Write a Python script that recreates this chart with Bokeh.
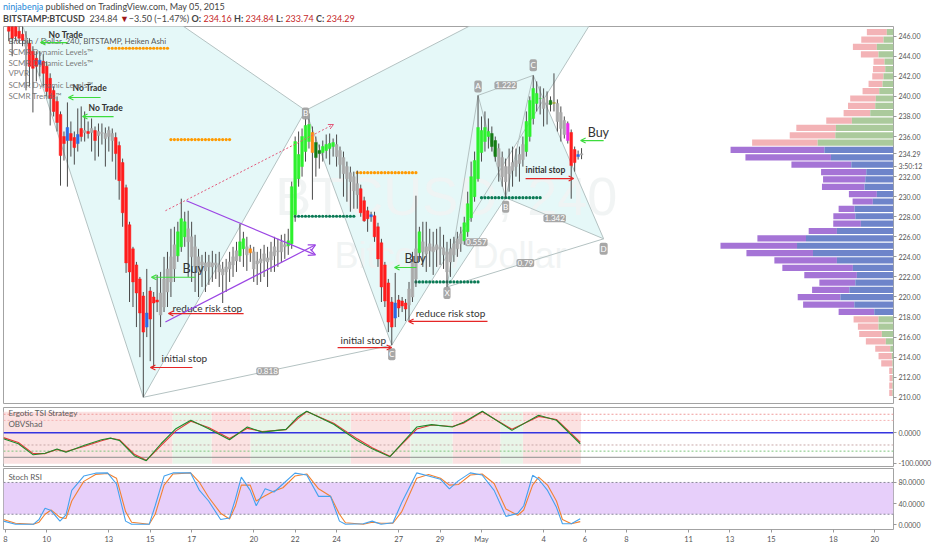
from bokeh.plotting import figure
from bokeh.models import (Range1d, Label, Arrow, OpenHead, FixedTicker, Div,
                          NumeralTickFormatter)
from bokeh.layouts import column
from bokeh.embed import file_html
from bokeh.resources import INLINE
from bokeh.core.properties import value

FONT = "Lato"

# ---------------- header data ----------------
AUTHOR = "ninjabenja"
PUB_DATE = "May 05, 2015"
SYMBOL = "BITSTAMP:BTCUSD"
LAST = "234.84"
CHANGE = "\u22123.50 (\u22121.47%)"
O_, H_, L_, C_ = "234.16", "234.84", "233.74", "234.29"
COUNTDOWN = "3:50:12"
COUNTDOWN_AT = 233.05

# ---------------- x axis (days since Apr 8, 2015) ----------------
TICK_DAYS = [0, 2, 5, 7, 9, 12, 14, 16, 19, 21, 23, 26, 28, 30, 33, 35, 37, 40, 42]
TICK_LABELS = ["8", "10", "13", "15", "17", "20", "22", "24", "27", "29", "May",
               "4", "6", "8", "11", "13", "15", "18", "20"]
PRICE_TICKS = [210, 212, 214, 216, 218, 220, 222, 224, 226, 228, 230, 232,
               236, 238, 240, 242, 244, 246]

# ---------------- Heiken Ashi 4h bars ----------------
OPEN = [248, 247.5, 247, 246.5, 246.2, 245.8, 245.3, 244.5, 243.8, 243.2,
        243.5, 243, 241.8, 240.6, 239.5, 238.2, 236, 235.6, 236.3, 235.9,
        235.3, 236.8, 236.4, 236.5, 236.4, 236.6, 236.1, 236.3, 236.3, 236,
        236.3, 235.9, 235.1, 233.4, 230.9, 227.2, 224.8, 223.2, 221.8, 220.1,
        217, 220.6, 220, 219.7, 218.2, 219, 220.5, 221.5, 222.8, 224.1,
        225, 226, 226.8, 226, 225, 224, 223.2, 223.4, 223, 223.4,
        223.2, 223.2, 222.8, 222.5, 222.8, 223.2, 223.6, 224.1, 224.8, 225,
        224.8, 224.5, 223.6, 223.4, 223.6, 223.9, 223.7, 224.1, 224.5, 224.5,
        225, 225.1, 225.3, 228.2, 231.8, 233, 234.5, 235.5, 236.4, 235.4,
        234.6, 234.4, 234.6, 234.8, 235, 235.2, 234.6, 233.9, 233, 232.4,
        232, 231.3, 230.8, 229.6, 228.6, 228, 228.1, 227, 225.4, 223.2,
        221.4, 219.5, 217.9, 219.7, 219.6, 219.4, 219.2, 220, 221.8, 224.4,
        225.5, 225, 224.6, 225, 224.7, 224.8, 224.9, 224.5, 223.5, 224.2,
        224.8, 225.3, 225.6, 226.5, 227.9, 230, 231.8, 234.4, 235.5, 236,
        236.3, 235.6, 234.8, 233.9, 233, 232.3, 232.6, 233, 233.3, 233.7,
        234.5, 236, 237.8, 239.3, 239.8, 239.8, 239.3, 239.2, 239.4, 239.3,
        238.4, 237.6, 237.3, 236.4, 234.7, 234, 234.16]
HIGH = [249, 248, 247.5, 247, 247, 246.5, 245.8, 245, 244.5, 244.5,
        244.2, 243.5, 242.3, 241, 240, 238.5, 236.5, 239.4, 237.5, 236.5,
        238.8, 239, 238.5, 237.5, 237.8, 237, 237.3, 237.3, 236.9, 237,
        236.8, 236.4, 235.5, 233.8, 231.2, 227.5, 225, 223.5, 222, 220.5,
        222.8, 221, 220.5, 222.2, 222.5, 224, 224.5, 226.8, 227, 227.5,
        229.8, 228.5, 228.6, 227.5, 226.2, 224.8, 224.2, 224.5, 224.2, 224.6,
        224.3, 224.5, 223.5, 223.8, 224.5, 225, 225.5, 227.3, 226.5, 226,
        225.2, 225, 224.5, 224.8, 225.2, 225, 225.5, 226, 225.8, 226.2,
        226.3, 226.8, 231.5, 236, 236.5, 236.8, 238.6, 238.3, 237, 236,
        235.2, 235.6, 236.2, 236.3, 235.8, 236.2, 235, 234.5, 233.5, 233,
        232.5, 232.6, 231.2, 230, 229, 228.5, 228.5, 227.4, 225.8, 223.5,
        221.8, 220, 222.4, 220.2, 220, 219.8, 221.5, 224.5, 230.1, 227,
        227.5, 227.5, 226.8, 226.5, 226.8, 227, 226.2, 225.5, 225.8, 226,
        226.5, 227, 228, 230.5, 233.5, 234.5, 240.1, 238, 238.5, 237.8,
        237, 236, 235.3, 234.5, 233.8, 234.8, 235, 234.8, 235, 236,
        238.5, 240, 242.1, 241.5, 241, 240.8, 240.5, 240, 242.3, 239.7,
        239, 238, 237.5, 236.7, 235, 234.6, 234.84]
LOW = [245.5, 244, 245.5, 245.3, 245, 240.6, 241, 238.4, 241.5, 242,
       241, 240, 237.1, 238, 236.5, 231.1, 233.6, 231, 234, 233.2,
       234.5, 235.5, 235.5, 235.8, 234.5, 233.6, 234, 235.2, 233, 234.5,
       233.5, 231.7, 229.7, 227, 222.4, 219.5, 219, 217, 214, 210,
       216, 213.6, 213, 218.5, 217, 218.5, 219, 220, 221.5, 223.5,
       224.5, 225, 222, 221.5, 220.5, 220, 221, 220.5, 221.2, 221.5,
       221.8, 221, 219.4, 220.5, 221.5, 222, 222.5, 223.5, 223, 222.6,
       223.5, 221.5, 221.2, 221.5, 222, 221, 222.5, 222.5, 223, 223.5,
       223.8, 224.2, 224.8, 227.5, 231, 232, 233.5, 234.8, 229.7, 232,
       232.8, 233.5, 233.8, 233.2, 234, 233, 231.8, 230, 229.5, 228.5,
       228.8, 228.8, 228, 227.5, 226.5, 227.5, 225.5, 223, 219.5, 219,
       216.5, 215.2, 217, 218, 218.5, 217.6, 217.6, 219.5, 221, 223.5,
       223, 222.5, 223, 222.2, 223, 223.2, 222.8, 221, 222, 223.5,
       224, 224.5, 225.2, 226, 227.5, 229.5, 231.5, 233.5, 234.5, 234.8,
       234.5, 233.5, 231.5, 231, 229.9, 230.5, 231, 232, 231.5, 233,
       234, 235.5, 237.2, 238.5, 238.2, 237, 237.2, 238.5, 238.5, 236.5,
       235.5, 235.8, 235.3, 229.8, 232.5, 233.7, 233.74]
CLOSE = [246.5, 245.8, 246, 245.8, 245.6, 245, 243, 242.8, 243, 243.6,
         242.3, 240.5, 239.8, 238.5, 237.4, 234.1, 235.3, 236.9, 235.6, 234.9,
         236.2, 236, 236.6, 236.3, 236.8, 235.6, 236.5, 236.4, 235.8, 236.6,
         235.6, 234.3, 231.6, 228.4, 223.4, 222.5, 221.5, 220.4, 218.4, 216.5,
         218.4, 217.8, 219.4, 219.5, 220.4, 221.8, 222.8, 224, 225.2, 226.5,
         227.8, 227.5, 225.5, 224, 223, 222.5, 223.5, 222.6, 223.5, 223.0,
         223.4, 222.5, 222.2, 223, 223.5, 224, 224.6, 225.5, 225.8, 224.2,
         224.4, 222.8, 223.3, 223.8, 224.3, 223.5, 224.5, 225, 224.6, 225.5,
         225.2, 225.6, 231, 235.5, 234.2, 236, 237.1, 237.2, 234.4, 233.9,
         234.3, 235, 235.2, 235.3, 235.4, 234, 233.2, 232.3, 231.8, 231.5,
         230.6, 230.2, 228.4, 227.6, 227.8, 228.2, 226, 223.8, 221, 219.6,
         217.5, 217, 219.4, 218.9, 219.1, 218.8, 220.8, 223.5, 224.8, 226.5,
         224.5, 224.3, 225.3, 224.5, 225.2, 225, 224.2, 222.5, 224.8, 225.3,
         225.8, 226.3, 227.4, 229.3, 232, 233.6, 236.9, 236.6, 236.9, 236.5,
         235, 234, 233, 232, 231.5, 233, 233.4, 233.6, 234.2, 235.2,
         237.5, 239.6, 240.8, 240.3, 239.8, 238.8, 239.2, 239.6, 239.3, 237.5,
         236.8, 236.2, 235.6, 233.1, 233.4, 234.2, 234.29]
# SCMR Trends state per bar: r=down, y=neutral, g=up, G=up-weak, o=warn, b=bounce, m=exit, v=top
TREND = ("rrrrr" "y" "rrr" "b" "rrrrrrr" "b" "rr" "b" "r" "y" "r" "y" "r" "yyyyy"
         "rrrrrrrrr" "b" "rrr" "yyyyy" "ggg" "yyyyyyyyyyyyyyy" "gg" "y" "o"
         "yyyyyyyyyy" "ggggggg" "o" "GG" "gggg" "yyyyyyy" "rrr" "b" "rrrrrr" "b"
         "rrr" "yyy" "g" "yyyyyyyyyyyy" "gggggggg" "GG" "yyyyyyyy" "ggggg" "yy"
         "G" "v" "yyy" "m" "rr" "b" "y")

# ---------------- harmonic patterns (bar index, price) ----------------
PAT1_IDX = [-9.3, 39, 86, 111, 184.3]
PAT1_PX = [261.2, 210.0, 238.6, 215.2, 256.0]
PAT2_IDX = [127, 136, 144, 152, 172.4]
PAT2_PX = [221.0, 240.1, 229.9, 242.1, 225.8]

# ---------------- SCMR dynamic levels (start bar, end bar, price, kind) ----------------
LEVEL_START = [29, 47, 101, 83, 118, 137]
LEVEL_END = [46, 64, 118, 100, 136, 154]
LEVEL_PRICE = [244.8, 235.7, 232.4, 228.05, 221.5, 229.9]
LEVEL_KIND = ["res", "res", "res", "sup", "sup", "sup"]

# ---------------- VPVR rows ----------------
VP_ROWS = [246.40, 245.67, 244.93, 244.20, 243.46, 242.73, 242.00, 241.26, 240.53, 239.79,
           239.06, 238.33, 237.59, 236.86, 236.12, 235.39, 234.66, 233.92, 233.19, 232.45,
           231.72, 230.99, 230.25, 229.52, 228.78, 228.05, 227.32, 226.58, 225.85, 225.11,
           224.38, 223.65, 222.91, 222.18, 221.44, 220.71, 219.98, 219.24, 218.51, 217.77,
           217.04, 216.31, 215.57, 214.84, 214.10, 213.37, 212.64, 211.90, 211.17, 210.43]
VP_UP = [6.7, 10, 16.7, 15, 9, 8.3, 10, 11, 14.3, 17.7,
         18.3, 23.3, 41.7, 57.7, 58.3, 76, 69.3, 62.7, 42.3, 27.3,
         28.3, 29, 16.7, 20.7, 39, 38.3, 32.7, 56.7, 87.7, 96.7,
         80.7, 56.7, 40.7, 36.7, 38.3, 44.3, 53.3, 39.3, 19.3, 15,
         15, 11.7, 7.7, 3.3, 1.7, 1, 1, 1, 1, 1]
VP_DOWN = [20, 22.3, 24, 17.7, 11, 12.3, 11.3, 14, 16.7, 25.7,
           27.3, 26.7, 25.7, 39.7, 45.7, 65.7, 94, 85.7, 60, 45.3,
           42.3, 42.7, 28, 20.3, 16, 22, 27.7, 28.3, 48.7, 76.7,
           66.7, 62.7, 70.7, 52.7, 36, 37.3, 42.7, 51.3, 35.7, 25,
           20.7, 22.7, 20, 15, 13.3, 11.3, 3.3, 3, 3.3, 3.3]
VA_HIGH, VA_LOW = 235.0, 218.2

# ---------------- Ergodic TSI ----------------
TSI_DAYS = [-0.09, 0.63, 1.35, 1.92, 2.50, 2.93, 3.79, 4.65, 5.08, 5.51, 6.23, 6.81,
            7.52, 8.24, 8.96, 9.82, 10.83, 11.69, 12.41, 13.56, 14.13, 14.56, 15.86,
            17.00, 17.72, 18.58, 19.87, 20.59, 21.59, 22.16, 23.04, 24.47, 25.76,
            26.62, 27.77]
TSI = [-19.7, -36, -72, -67, -52.8, -63.6, -41.8, -23, -17.7, -25.3, -74.7, -91,
       -36, 13, 40.5, 13, -23, 18.4, 2, 10.9, 51.3, 70, 27.3,
       -25.3, -52.6, -78, 18.4, 26.3, 18.4, 35, 70, 7.6, 57, 40.5, -36]
TSI_SIG = [-16, -32, -68, -68, -55, -61, -45, -26, -18, -23, -70, -90,
           -42, 6, 37, 17, -19, 14, 4, 10, 46, 69, 31,
           -20, -49, -77, 12, 25, 20, 32, 68, 11, 53, 43, -31]
TSI_BAND_L = [-0.1, 9.96, 16.68, 21.6, 25.0, 8.08, 11.85, 19.57, 23.92]
TSI_BAND_R = [8.08, 11.85, 19.57, 23.92, 27.8, 9.96, 16.68, 21.6, 25.0]
TSI_BAND_KIND = ["bear", "bear", "bear", "bear", "bear", "bull", "bull", "bull", "bull"]

# ---------------- Stoch RSI ----------------
ST_DAYS = [-0.09, 0.49, 1.35, 1.63, 1.92, 2.21, 2.64, 2.93, 3.21, 3.79, 4.36, 4.94,
           5.37, 5.81, 6.10, 6.95, 7.24, 7.67, 8.10, 8.95, 9.38, 9.82, 10.40, 10.83,
           11.11, 11.40, 11.83, 12.12, 12.55, 12.98, 13.41, 13.99, 14.56, 15.13, 15.71,
           16.14, 16.43, 17.29, 17.72, 18.15, 18.72, 19.15, 19.87, 20.44, 21.02, 21.45,
           21.88, 22.46, 23.03, 23.61, 24.18, 24.75, 25.04, 25.47, 25.76, 26.19, 26.62,
           26.91, 27.34, 27.77]
ST_K = [7, 1, 1, 10, 31.5, 27, 7, 18.6, 65, 92, 97.5, 98, 77, 7, 1, 1, 36, 92, 98, 98,
        65, 45, 10, 13, 48, 90, 65, 36, 68, 62, 77, 97.5, 94, 53.7, 53.7, 7, 1, 2, 7, 1,
        4, 42, 98, 92, 86, 68, 83, 98, 94, 65, 16, 21.6, 36, 93.5, 86, 65, 33, 2, 2, 11.6]
ST_D = [10, 3, 1, 5, 20, 28, 14, 12, 45, 82, 95, 97, 88, 25, 5, 1, 20, 75, 96, 98,
        80, 52, 22, 11, 35, 75, 75, 45, 55, 64, 70, 92, 96, 68, 54, 20, 4, 1, 5, 3,
        3, 25, 88, 95, 88, 75, 76, 94, 96, 78, 30, 18, 28, 75, 90, 75, 45, 10, 2, 6]

# ---------------- annotations (day, price) ----------------
NOTES = [("No Trade", 2.09, 246.17, "bold", "8.5px"),
         ("No Trade", 3.25, 240.79, "bold", "8.5px"),
         ("No Trade", 4.02, 238.89, "bold", "8.5px"),
         ("Buy", 8.56, 222.84, "normal", "12.5px"),
         ("reduce risk stop", 8.08, 218.95, "normal", "10px"),
         ("initial stop", 7.55, 213.87, "normal", "10px"),
         ("initial stop", 16.19, 215.76, "normal", "10px"),
         ("Buy", 19.28, 223.84, "normal", "12.5px"),
         ("reduce risk stop", 19.82, 218.45, "normal", "10px"),
         ("initial stop", 25.13, 232.71, "bold", "8.5px"),
         ("Buy", 28.13, 236.40, "normal", "12.5px")]
ARROWS = [(3.00, 1.70, 245.37, "g"), (4.60, 3.05, 239.89, "g"), (5.23, 3.73, 237.99, "g"),
          (9.19, 7.06, 221.97, "g"), (11.51, 7.88, 218.35, "r"), (9.04, 7.01, 212.97, "r"),
          (16.05, 18.66, 214.96, "r"), (19.86, 18.80, 222.94, "g"), (23.29, 19.48, 217.56, "r"),
          (25.13, 27.45, 231.81, "r"), (28.90, 27.79, 235.60, "g")]
TRI_UPPER = [(51.5, 229.6), (88.9, 224.2)]
TRI_LOWER = [(45.4, 217.5), (88.9, 225.2)]
TREND_LINE = [(45.4, 228.6), (94.1, 237.2)]
LEGEND = ["Bitcoin / Dollar, 240, BITSTAMP, Heiken Ashi", "SCMR Dynamic Levels\u2122",
          "SCMR Dynamic Levels\u2122", "VPVR", "SCMR Dynamic Levels\u2122", "SCMR Trends\u2122"]
LEGEND_PX = [245.57, 244.47, 243.34, 242.31, 241.18, 240.01]

# ---------------- styling ----------------
W_FRAME = 890
RB = 37
CYAN = "#e5f8f8"
PLINE = "#b4c2c2"
BAR_COL = {"r": "#ff1d1d", "y": "#aaaaaa", "g": "#2ef02e", "G": "#157d15",
           "o": "#ff8a10", "b": "#2a6ce6", "m": "#ec2cec", "v": "#a4a42c"}
xr = Range1d(-0.087, 42.9)


def day(i):
    return (i + 1) / 6.0


def style_axis(ax, size="7px"):
    ax.major_label_text_font = FONT
    ax.major_label_text_font_size = size
    ax.major_label_text_color = "#555555"
    ax.axis_line_color = None
    ax.major_tick_line_color = "#999999"
    ax.major_tick_in = 0
    ax.major_tick_out = 3
    ax.minor_tick_line_color = None
    ax.major_label_standoff = 2


def base_fig(height, yr, top, bottom, xaxis=False):
    f = figure(x_range=xr, y_range=yr, frame_width=W_FRAME, height=height,
               min_border_left=3, min_border_right=RB, min_border_top=top,
               min_border_bottom=bottom, toolbar_location=None, output_backend="svg",
               y_axis_location="right", x_axis_location="below" if xaxis else None)
    f.xgrid.visible = False
    f.ygrid.visible = False
    f.outline_line_color = "#a3a3a3"
    f.background_fill_color = "white"
    f.border_fill_color = "white"
    return f


# ================= main price panel =================
p = base_fig(380, Range1d(209.38, 246.97), 1, 2)
p.extra_x_ranges = {"vp": Range1d(start=892, end=0)}


def draw_pattern(idx, px):
    d = [day(i) for i in idx]
    p.patches(xs=[[d[0], d[1], d[2]], [d[2], d[3], d[4]]],
              ys=[[px[0], px[1], px[2]], [px[2], px[3], px[4]]],
              fill_color=CYAN, line_color=None)
    return d


d1 = draw_pattern(PAT1_IDX, PAT1_PX)
d2 = draw_pattern(PAT2_IDX, PAT2_PX)

# watermark
p.text(x=[21.3], y=[230.1], text=["BTCUSD, 240"], text_font=value("Liberation Sans"),
       text_font_size=value("54px"), text_color="#f0f3f3", text_alpha=0.9,
       text_align="center", text_baseline="middle")
p.text(x=[21.5], y=[224.1], text=["Bitcoin / Dollar"], text_font=value("Liberation Sans"),
       text_font_size=value("36px"), text_color="#f0f3f3", text_alpha=0.9,
       text_align="center", text_baseline="middle")

PAIRS = [(0, 1), (1, 2), (2, 0), (2, 3), (3, 4), (4, 2), (1, 3), (0, 4)]
for d, px in ((d1, PAT1_PX), (d2, PAT2_PX)):
    p.multi_line(xs=[[d[a], d[b]] for a, b in PAIRS], ys=[[px[a], px[b]] for a, b in PAIRS],
                 line_color=PLINE, line_width=1)

# VPVR
far_col = ["#a574d6" if VA_LOW <= r <= VA_HIGH else "#f3b3b6" for r in VP_ROWS]
near_col = ["#6e84ca" if VA_LOW <= r <= VA_HIGH else "#abca9c" for r in VP_ROWS]
p.hbar(y=VP_ROWS, height=0.62, left=[a + b for a, b in zip(VP_UP, VP_DOWN)], right=VP_UP,
       fill_color=far_col, line_color=None, x_range_name="vp")
p.hbar(y=VP_ROWS, height=0.62, left=VP_UP, right=[0] * len(VP_ROWS),
       fill_color=near_col, line_color=None, x_range_name="vp")

# dynamic levels (dotted)
for s, e, lv, k in zip(LEVEL_START, LEVEL_END, LEVEL_PRICE, LEVEL_KIND):
    xs = [day(i) for i in range(s, e + 1)]
    p.scatter(x=xs, y=[lv] * len(xs), size=3.2, marker="circle",
              fill_color="#ff9a00" if k == "res" else "#0b7a55", line_color=None)

# candles
t = [day(i) for i in range(len(CLOSE))]
cols = [BAR_COL[k] for k in TREND]
p.segment(x0=t, y0=LOW, x1=t, y1=HIGH, line_color="#4a4a4a", line_width=1)
p.vbar(x=t, width=0.13, top=[max(o, c) for o, c in zip(OPEN, CLOSE)],
       bottom=[min(o, c) for o, c in zip(OPEN, CLOSE)], fill_color=cols, line_color=cols,
       line_width=0.5)

# triangle & trend line
for (a, b) in (TRI_UPPER, TRI_LOWER):
    p.add_layout(Arrow(x_start=day(a[0]), y_start=a[1], x_end=day(b[0]), y_end=b[1],
                       line_color="#9b45e4", line_width=1.2,
                       end=OpenHead(size=7, line_color="#9b45e4", line_width=1.2)))
a, b = TREND_LINE
p.add_layout(Arrow(x_start=day(a[0]), y_start=a[1], x_end=day(b[0]), y_end=b[1],
                   line_color="#e2587a", line_width=1, line_dash="2 2",
                   end=OpenHead(size=5, line_color="#e2587a", line_width=1)))


def tag(x, y, txt, yoff, size="8px"):
    p.add_layout(Label(x=x, y=y, text=txt, y_offset=yoff, text_font=FONT,
                       text_font_size=size, text_color="white", text_align="center",
                       text_baseline="middle", background_fill_color="#a2a2a2",
                       background_fill_alpha=0.95, padding=1, border_radius=2))


tag(d1[2], PAT1_PX[2], "B", -3)
tag(d1[3], PAT1_PX[3], "C", -9)
for k, (ltr, off) in enumerate(zip("XABCD", [-6, 9, -9, 10, -10])):
    tag(d2[k], PAT2_PX[k], ltr, off)
for (d, px, a, b, txt) in ((d1, PAT1_PX, 1, 3, "0.818"), (d2, PAT2_PX, 0, 2, "0.557"),
                           (d2, PAT2_PX, 1, 3, "1.222"), (d2, PAT2_PX, 2, 4, "1.342"),
                           (d2, PAT2_PX, 0, 4, "0.79")):
    tag((d[a] + d[b]) / 2, (px[a] + px[b]) / 2, txt, 0)

# arrows & notes
for x0, x1, y, c in ARROWS:
    col = "#3ddc3d" if c == "g" else "#e52626"
    p.add_layout(Arrow(x_start=x0, y_start=y, x_end=x1, y_end=y, line_color=col,
                       line_width=1.2, end=OpenHead(size=5, line_color=col, line_width=1.2)))
for txt, x, y, st, sz in NOTES:
    p.text(x=[x], y=[y], text=[txt], text_font=value(FONT), text_font_size=value(sz),
           text_font_style=value(st), text_color="#333333", text_align="left",
           text_baseline="middle")

# legend
for k, (txt, y) in enumerate(zip(LEGEND, LEGEND_PX)):
    p.text(x=[0.15], y=[y], text=[txt], text_font=value(FONT), text_font_size=value("8px"),
           text_color="#444444" if k == 0 else "#6a6a6a", text_alpha=0.9,
           text_align="left", text_baseline="middle")

# price axis, with last price and bar countdown shown on the scale
last_close = CLOSE[-1]
p.yaxis.ticker = FixedTicker(ticks=sorted(PRICE_TICKS + [COUNTDOWN_AT, last_close]))
p.yaxis.formatter = NumeralTickFormatter(format="0.00")
p.yaxis.major_label_overrides = {last_close: C_, COUNTDOWN_AT: COUNTDOWN}
style_axis(p.yaxis[0])

# ================= TSI panel =================
p2 = base_fig(62, Range1d(-110, 82), 2, 1)
p2.quad(left=TSI_BAND_L, right=TSI_BAND_R, bottom=-101, top=68,
        fill_color=["#fbe2e2" if k == "bear" else "#e8f5e8" for k in TSI_BAND_KIND],
        line_color=None)
for lv, col, dash, w in ((60, "#f09a9a", "2 2", 1), (40, "#f4b4b4", "2 2", 1),
                         (-40, "#c8a8a8", "2 2", 1), (-60, "#7cc47c", "2 2", 1),
                         (-80, "#8e8e8e", "solid", 1), (0, "#3434e0", "solid", 1.6)):
    p2.segment(x0=[xr.start], x1=[xr.end], y0=[lv], y1=[lv], line_color=col,
               line_dash=dash, line_width=w)
p2.line(TSI_DAYS, TSI_SIG, line_color="#e23a3a", line_width=1.1)
p2.line(TSI_DAYS, TSI, line_color="#1e8a2a", line_width=1.1)
p2.text(x=[0.15, 0.15], y=[64, 27], text=["Ergotic TSI Strategy", "OBVShad"],
        text_font=value(FONT), text_font_size=value("8px"), text_color="#5a5a5a",
        text_align="left", text_baseline="middle")
p2.yaxis.ticker = FixedTicker(ticks=[0, -100])
p2.yaxis.formatter = NumeralTickFormatter(format="0.0000")
style_axis(p2.yaxis[0])

# ================= Stoch RSI panel =================
p3 = base_fig(79, Range1d(-8.8, 106.3), 1, 14, xaxis=True)
p3.quad(left=[xr.start], right=[xr.end], bottom=[20], top=[80], fill_color="#e7cffa",
        line_color=None)
for lv in (80, 20):
    p3.segment(x0=[xr.start], x1=[xr.end], y0=[lv], y1=[lv], line_color="#8a8a9a",
               line_dash="2 2", line_width=1)
p3.line(ST_DAYS, ST_D, line_color="#f28232", line_width=1.1)
p3.line(ST_DAYS, ST_K, line_color="#45a2ee", line_width=1.1)
p3.text(x=[0.15], y=[90], text=["Stoch RSI"], text_font=value(FONT),
        text_font_size=value("8px"), text_color="#5a5a5a", text_align="left",
        text_baseline="middle")
p3.yaxis.ticker = FixedTicker(ticks=[0, 40, 80])
p3.yaxis.formatter = NumeralTickFormatter(format="0.0000")
style_axis(p3.yaxis[0])
p3.xaxis.ticker = FixedTicker(ticks=TICK_DAYS)
p3.xaxis.major_label_overrides = {d: lab for d, lab in zip(TICK_DAYS, TICK_LABELS)}
style_axis(p3.xaxis[0], "7.5px")

# ================= header =================
RED = "#c62828"
HEADER_HTML = (
    f'<div style="font-family:\'{FONT}\';font-size:9px;line-height:12px;color:#444;'
    f'white-space:nowrap;margin:0;padding:1px 0 0 3px">'
    f'<span style="color:#1f88d8">{AUTHOR}</span> published on TradingView.com, {PUB_DATE}<br>'
    f'<b>{SYMBOL}</b>&nbsp; {LAST} <span style="color:#a01818">\u25bc</span>{CHANGE} '
    f'<b>O:</b> <span style="color:{RED}">{O_}</span> <b>H:</b> <span style="color:{RED}">{H_}</span> '
    f'<b>L:</b> <span style="color:{RED}">{L_}</span> <b>C:</b> <span style="color:{RED}">{C_}</span>'
    f'</div>')
header = Div(text=HEADER_HTML, width=930, height=25, margin=(0, 0, 0, 0))

layout = column(header, p, p2, p3, spacing=0)
open("out.html", "w").write(file_html(layout, INLINE))
